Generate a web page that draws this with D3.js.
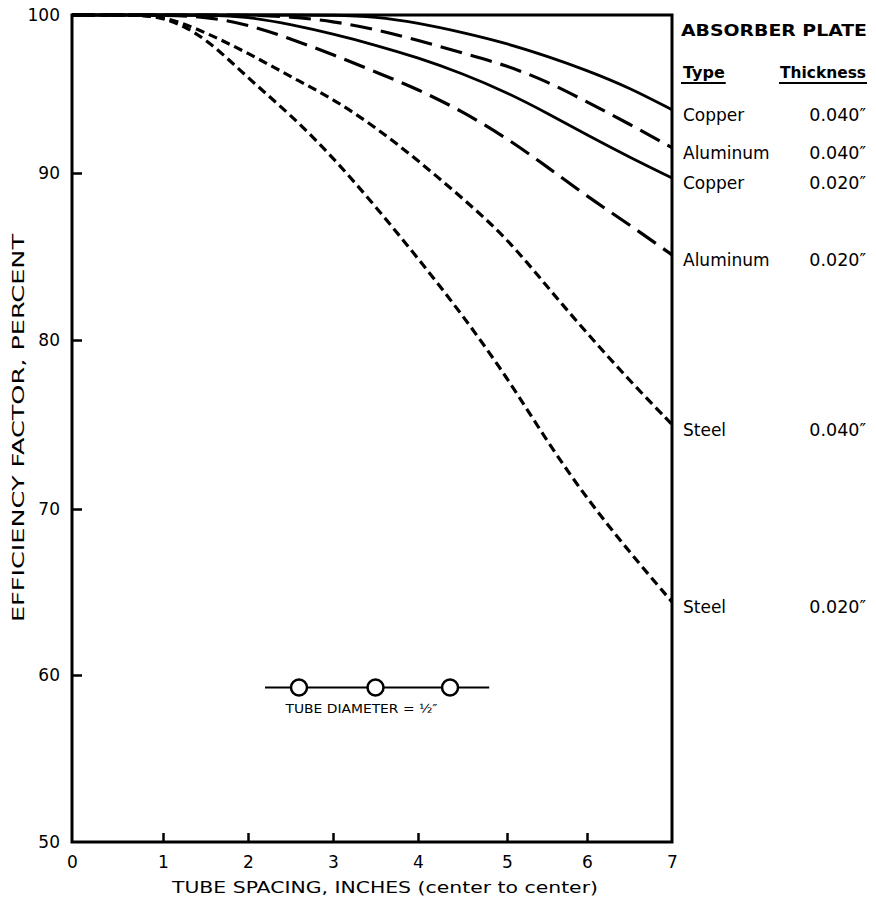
<!DOCTYPE html>
<html>
<head>
<meta charset="utf-8">
<script src="https://cdn.jsdelivr.net/npm/d3@7"></script>
<style>
  html, body { margin: 0; padding: 0; background: #fff; }
  svg { display: block; }
  text { font-family: "DejaVu Sans", "Liberation Sans", sans-serif; fill: #000; }
</style>
</head>
<body>
<svg id="chart" width="876" height="907"></svg>
<script>
// ---- data ----
const tubeSpacing = [0, 0.5, 1, 1.5, 2, 2.5, 3, 3.5, 4, 4.5, 5, 5.5, 6, 6.5, 7];
const copper040   = [100, 100, 100, 100, 100, 100, 100, 99.9, 99.5, 98.9, 98.2, 97.4, 96.5, 95.4, 94.0];
const aluminum040 = [100, 100, 100, 100, 100, 99.9, 99.6, 99.1, 98.4, 97.6, 96.8, 95.8, 94.5, 93.1, 91.6];
const copper020   = [100, 100, 100, 100, 99.9, 99.4, 98.8, 98.1, 97.3, 96.3, 95.1, 93.8, 92.4, 91.0, 89.7];
const aluminum020 = [100, 100, 100, 99.9, 99.4, 98.5, 97.5, 96.4, 95.3, 93.9, 92.2, 90.4, 88.6, 86.9, 85.1];
const steel040    = [100, 100, 100, 98.9, 97.6, 96.1, 94.7, 92.9, 90.8, 88.5, 86.1, 83.2, 80.4, 77.6, 75.0];
const steel020    = [100, 100, 100, 98.6, 96.0, 93.7, 91.0, 88.0, 84.9, 81.5, 77.8, 74.0, 70.6, 67.4, 64.4];

const plateTypes      = ["Copper", "Aluminum", "Copper", "Aluminum", "Steel", "Steel"];
const plateThickness  = ["0.040\u2033", "0.040\u2033", "0.020\u2033", "0.020\u2033", "0.040\u2033", "0.020\u2033"];
const plateMaterial   = ["copper", "aluminum", "copper", "aluminum", "steel", "steel"];
const seriesValues    = [copper040, aluminum040, copper020, aluminum020, steel040, steel020];

const xTicks = [0, 1, 2, 3, 4, 5, 6, 7];
const yTicks = [50, 60, 70, 80, 90, 100];

// ---- styles ----
const dashFor = { copper: null, aluminum: "22,9", steel: "9,5" };

const svg = d3.select("#chart");

// scales (piecewise to follow the printed grid)
const x = d3.scaleLinear().domain(xTicks).range([72, 163, 248, 333, 418, 507, 587, 672]);
const y = d3.scaleLinear().domain(yTicks).range([842, 675, 509, 340, 173, 15]);

// axes
const gx = svg.append("g").attr("transform", `translate(0,${y(50)})`)
  .call(d3.axisBottom(x).tickValues(xTicks).tickFormat(d3.format("d"))
        .tickSizeInner(-9).tickSizeOuter(0).tickPadding(14));
gx.select(".domain").remove();
gx.selectAll(".tick line").attr("stroke", "#000").attr("stroke-width", 2.5)
  .filter(d => d === 0 || d === 7).remove();
gx.selectAll(".tick text").style("font-size", "17px").attr("fill", "#000");

const gy = svg.append("g").attr("transform", `translate(${x(0)},0)`)
  .call(d3.axisLeft(y).tickValues(yTicks).tickFormat(d3.format("d"))
        .tickSizeInner(-10).tickSizeOuter(0).tickPadding(12));
gy.select(".domain").remove();
gy.selectAll(".tick line").attr("stroke", "#000").attr("stroke-width", 2.5)
  .filter(d => d === 50 || d === 100).remove();
gy.selectAll(".tick text").style("font-size", "17px").attr("fill", "#000");

// series
const line = d3.line()
  .x((d, i) => x(tubeSpacing[i]))
  .y(d => y(d))
  .curve(d3.curveBasis);

svg.append("g").selectAll("path")
  .data(seriesValues)
  .join("path")
  .attr("d", d => line(d))
  .attr("fill", "none")
  .attr("stroke", "#000")
  .attr("stroke-width", (d, i) => plateMaterial[i] === "copper" ? 2.8 : 3.2)
  .attr("stroke-dasharray", (d, i) => dashFor[plateMaterial[i]]);

// frame
svg.append("rect")
  .attr("x", x(0)).attr("y", y(100))
  .attr("width", x(7) - x(0)).attr("height", y(50) - y(100))
  .attr("fill", "none").attr("stroke", "#000").attr("stroke-width", 3);

// axis titles
svg.append("text")
  .attr("x", 172).attr("y", 893)
  .attr("textLength", 426).attr("lengthAdjust", "spacingAndGlyphs")
  .style("font-size", "16.5px")
  .text("TUBE SPACING, INCHES (center to center)");

svg.append("text")
  .attr("transform", "translate(24,428) rotate(-90)")
  .attr("text-anchor", "middle")
  .attr("textLength", 388).attr("lengthAdjust", "spacingAndGlyphs")
  .style("font-size", "16.5px")
  .text("EFFICIENCY FACTOR, PERCENT");

// legend header
svg.append("text")
  .attr("x", 681).attr("y", 36)
  .attr("textLength", 186).attr("lengthAdjust", "spacingAndGlyphs")
  .style("font-size", "16px").style("font-weight", "bold")
  .text("ABSORBER PLATE");

const typeHdr = svg.append("text")
  .attr("x", 683).attr("y", 78)
  .style("font-size", "16px").style("font-weight", "bold")
  .text("Type");
svg.append("text")
  .attr("x", 866).attr("y", 78).attr("text-anchor", "end")
  .attr("textLength", 86).attr("lengthAdjust", "spacingAndGlyphs")
  .style("font-size", "16px").style("font-weight", "bold")
  .text("Thickness");
const tw = typeHdr.node().getComputedTextLength();
svg.append("line").attr("x1", 681).attr("x2", 683 + tw + 1).attr("y1", 83).attr("y2", 83)
  .attr("stroke", "#000").attr("stroke-width", 2);
svg.append("line").attr("x1", 779).attr("x2", 867).attr("y1", 83).attr("y2", 83)
  .attr("stroke", "#000").attr("stroke-width", 2);

// legend rows, positioned at each curve's end value
const rows = svg.append("g").selectAll("g")
  .data(seriesValues)
  .join("g")
  .attr("transform", (d, i) => `translate(0,${y(d[d.length - 1]) + 5})`);
rows.append("text")
  .attr("x", 683).attr("dy", "0.36em")
  .style("font-size", "17px")
  .text((d, i) => plateTypes[i]);
rows.append("text")
  .attr("x", 866).attr("dy", "0.36em").attr("text-anchor", "end")
  .style("font-size", "17.5px")
  .text((d, i) => plateThickness[i]);

// tube diagram annotation
const diag = svg.append("g");
const dy0 = y(59.25);
diag.append("line")
  .attr("x1", x(2.2)).attr("x2", x(4.8)).attr("y1", dy0).attr("y2", dy0)
  .attr("stroke", "#000").attr("stroke-width", 2);
diag.selectAll("circle")
  .data([2.6, 3.5, 4.36])
  .join("circle")
  .attr("cx", d => x(d)).attr("cy", dy0).attr("r", 8)
  .attr("fill", "#fff").attr("stroke", "#000").attr("stroke-width", 2.5);
diag.append("text")
  .attr("x", x(3.5) - 14).attr("y", dy0 + 25).attr("text-anchor", "middle")
  .attr("textLength", 152).attr("lengthAdjust", "spacingAndGlyphs")
  .style("font-size", "13px")
  .text("TUBE DIAMETER = \u00BD\u2033");
</script>
</body>
</html>
